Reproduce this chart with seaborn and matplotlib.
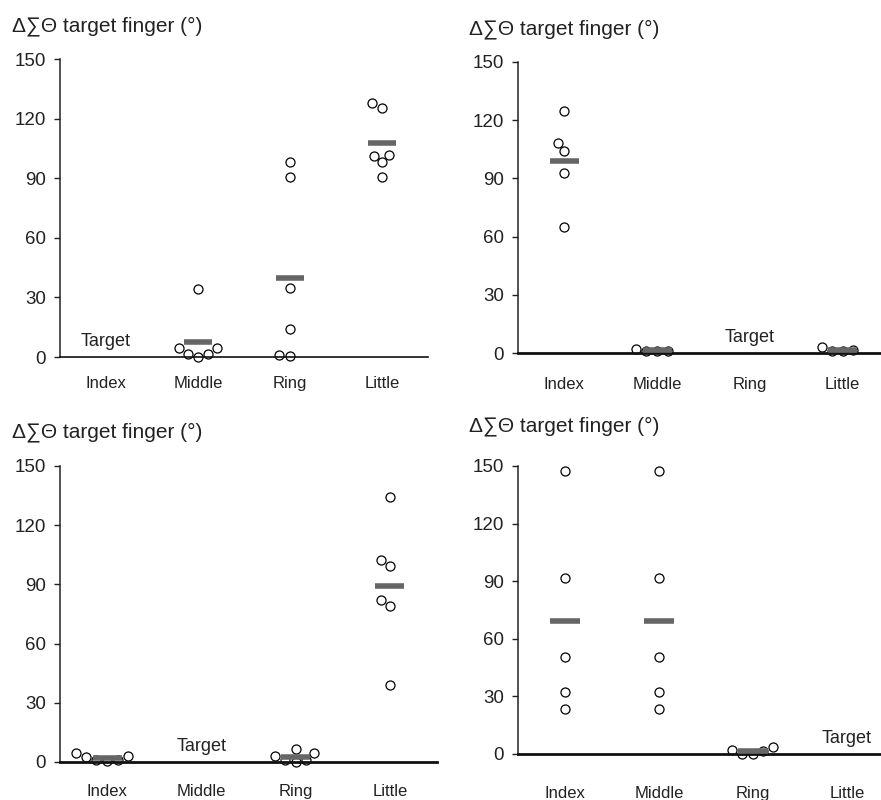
import matplotlib
matplotlib.use("Agg")
import matplotlib.pyplot as plt
import numpy as np
import pandas as pd
import seaborn as sns

# ---------------- data ----------------
fingers = ["Index", "Middle", "Ring", "Little"]
yticks = [0, 30, 60, 90, 120, 150]
ylabel = "Δ∑Θ target finger (°)"
target_label = "Target"

# panel 1: target = Index
p1_target = "Index"
p1_middle = [34.1, 4.4, 4.4, 1.5, 1.5, 0.0]
p1_ring = [98.0, 90.6, 34.6, 14.3, 0.5, 1.0]
p1_little = [127.7, 125.5, 101.8, 98.0, 101.2, 90.6]

# panel 2: target = Ring
p2_target = "Ring"
p2_index = [124.5, 108.3, 104.2, 92.7, 65.0]
p2_middle = [1.2, 1.2, 1.2, 2.2]
p2_little = [1.0, 3.2, 1.0, 1.7]

# panel 3: target = Middle
p3_target = "Middle"
p3_index = [2.9, 1.2, 0.8, 2.4, 4.6, 0.7]
p3_ring = [4.6, 1.2, 0.0, 2.9, 6.6, 0.8]
p3_little = [134.5, 102.2, 99.2, 82.2, 79.0, 38.8]

# panel 4: target = Little
p4_target = "Little"
p4_index = [147.6, 91.5, 50.5, 32.5, 23.3]
p4_middle = [147.6, 91.5, 50.5, 32.5, 23.3]
p4_ring = [0.0, 2.1, 3.8, 1.6, 0.0]

panels_data = [
    (p1_target, {"Middle": p1_middle, "Ring": p1_ring, "Little": p1_little}),
    (p2_target, {"Index": p2_index, "Middle": p2_middle, "Little": p2_little}),
    (p3_target, {"Index": p3_index, "Ring": p3_ring, "Little": p3_little}),
    (p4_target, {"Index": p4_index, "Middle": p4_middle, "Ring": p4_ring}),
]

# ---------------- layout (pixels) ----------------
W, H = 881, 800
# left, right, y of 0, y of 150, title x, title baseline y, bottom spine lw, xlabel pad
layout = [
    (60, 428, 357, 59, 12, 31, 1.2, 14),
    (518, 889, 353, 62, 469, 34, 2.0, 17),
    (60, 437, 762, 466, 12, 437, 2.0, 16),
    (518, 894, 754, 466, 469, 431, 2.0, 23),
]

sns.set_theme(style="white")
plt.rcParams["font.family"] = ["Liberation Sans", "DejaVu Sans"]

fig = plt.figure(figsize=(W / 100, H / 100), dpi=100)
fig.patch.set_facecolor("white")

for (target, groups), (l, r, y0, y150, tx, ty, blw, xpad) in zip(panels_data, layout):
    ax = fig.add_axes([l / W, (H - y0) / H, (r - l) / W, (y0 - y150) / H])
    ax.set_facecolor("white")
    rows = [(f, v) for f in fingers if f in groups for v in groups[f]]
    df = pd.DataFrame(rows, columns=["finger", "value"])
    ax.set_xlim(-0.5, 3.5)
    ax.set_ylim(0, 150)
    sns.swarmplot(data=df, x="finger", y="value", order=fingers, ax=ax,
                  color="white", edgecolor="black", linewidth=0.9, size=6.5,
                  warn_thresh=1.0, zorder=2)
    for c in ax.collections:
        c.set_clip_on(False)
    means = df.groupby("finger")["value"].mean()
    for i, f in enumerate(fingers):
        if f in means.index:
            ax.hlines(means[f], i - 0.155, i + 0.155, color="#666666",
                      linewidth=4.0, zorder=4, clip_on=False)
    ax.text(fingers.index(target), 5.5, target_label, ha="center", va="baseline",
            fontsize=13, color="#222222")
    ax.set_xlim(-0.5, 3.5)
    ax.set_ylim(0, 150)
    ax.set_yticks(yticks)
    ax.set_xlabel("")
    ax.set_ylabel("")
    for s in ["top", "right"]:
        ax.spines[s].set_visible(False)
    ax.spines["left"].set_color("#222222")
    ax.spines["left"].set_linewidth(1.1)
    ax.spines["bottom"].set_color("#111111")
    ax.spines["bottom"].set_linewidth(blw)
    ax.spines["bottom"].set_zorder(3)
    ax.tick_params(axis="y", direction="out", length=4, width=1, color="#222222",
                   labelsize=13.5, pad=6, left=True, labelcolor="#222222")
    ax.tick_params(axis="x", length=0, pad=xpad, labelsize=12, labelcolor="#222222")
    ax.grid(False)
    fig.text(tx / W, 1 - ty / H, ylabel, ha="left", va="baseline",
             fontsize=15, color="#222222")

fig.savefig("out.png", dpi=100, facecolor="white")
